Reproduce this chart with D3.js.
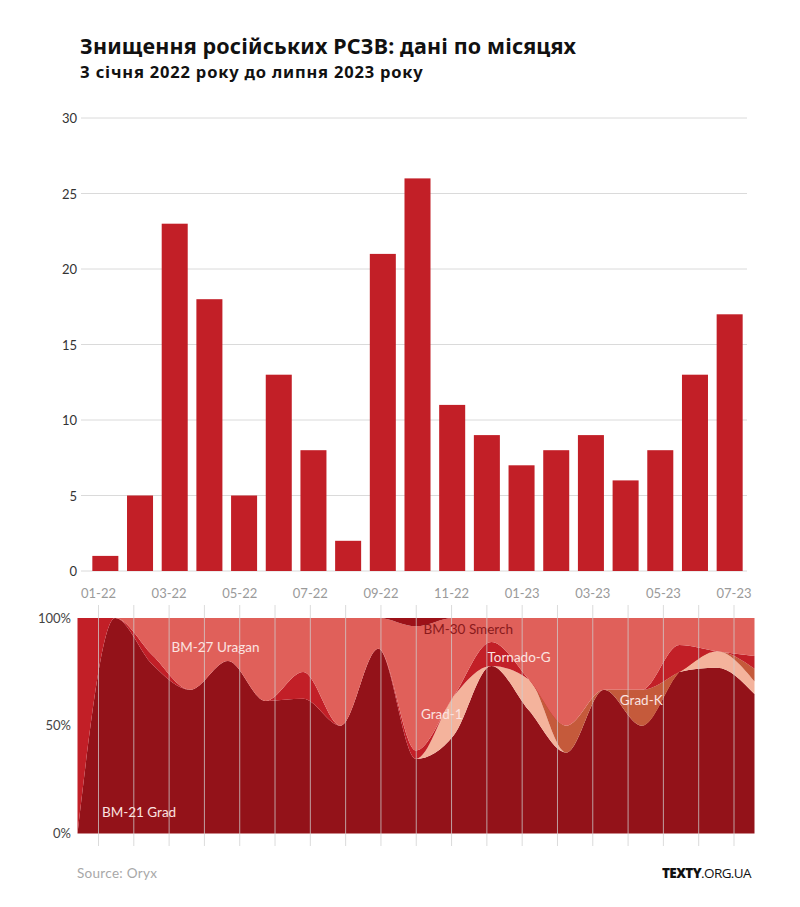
<!DOCTYPE html>
<html>
<head>
<meta charset="utf-8">
<script src="https://cdn.jsdelivr.net/npm/d3@7"></script>
<style>
  html, body { margin: 0; padding: 0; background: #fff; }
  svg { display: block; }
</style>
</head>
<body>
<svg id="chart" width="800" height="907"></svg>
<script>
// ---------- DATA ----------
const months = ["01-22","02-22","03-22","04-22","05-22","06-22","07-22","08-22","09-22","10-22",
                "11-22","12-22","01-23","02-23","03-23","04-23","05-23","06-23","07-23"];
const totals = [1,5,23,18,5,13,8,2,21,26,11,9,7,8,9,6,8,13,17];
// monthly losses by system type
const grad    = [0,5,18,12,4,8,5,1,18,9,5,7,4,3,6,3,6,10,11];
const grad1   = [0,0,0,0,0,0,0,0,0,0,2,0,1,0,0,0,0,1,1];
const gradK   = [0,0,0,0,0,0,0,0,0,0,0,0,0,1,0,1,0,0,1];
const tornado = [1,0,1,0,0,0,1,0,0,1,0,1,0,0,0,0,1,0,1];
const uragan  = [0,0,4,6,1,5,2,1,3,15,4,1,2,4,3,2,1,2,3];
const smerch  = [0,0,0,0,0,0,0,0,0,1,0,0,0,0,0,0,0,0,0];
const seriesNames = ["BM-21 Grad","Grad-1","Grad-K","Tornado-G","BM-27 Uragan","BM-30 Smerch"];
const barTicks = [0,5,10,15,20,25,30];
const pctTicks = [0, 0.5, 1];
const xLabelMonths = months.filter((m,i) => i % 2 === 0);

// ---------- STYLE ----------
const colors = {
  "BM-21 Grad": "#931219",
  "Grad-1": "#f4b39c",
  "Grad-K": "#c55a3b",
  "Tornado-G": "#c21f27",
  "BM-27 Uragan": "#e0605a",
  "BM-30 Smerch": "#9c1118"
};
const barColor = "#c21f27";
const fontMain = "Lato, 'Open Sans', 'Noto Sans', sans-serif";
const fontTitle = "'Noto Sans', 'Open Sans', sans-serif";

const svg = d3.select("#chart");

// ---------- TITLES ----------
svg.append("text").attr("x", 80).attr("y", 54)
  .attr("font-family", fontTitle).attr("font-weight", 700).attr("font-size", 21.5)
  .attr("letter-spacing", 0.15)
  .attr("fill", "#111").text("Знищення російських РСЗВ: дані по місяцях");
svg.append("text").attr("x", 80).attr("y", 78)
  .attr("font-family", fontTitle).attr("font-weight", 700).attr("font-size", 16.5)
  .attr("letter-spacing", 0.8)
  .attr("fill", "#111").text("З січня 2022 року до липня 2023 року");

// ---------- BAR CHART ----------
const xBar = d3.scaleBand().domain(months).range([88, 747]).paddingInner(0.25).paddingOuter(0.125);
const yBar = d3.scaleLinear().domain([0, 30]).range([571, 118]);

const gGrid = svg.append("g");
gGrid.selectAll("line").data(barTicks).join("line")
  .attr("x1", 81).attr("x2", 747)
  .attr("y1", d => yBar(d)).attr("y2", d => yBar(d))
  .attr("stroke", "#dadada").attr("stroke-width", 1);

const yAxisBar = d3.axisLeft(yBar).tickValues(barTicks).tickSize(0).tickPadding(0);
svg.append("g").attr("transform", "translate(77,0)").call(yAxisBar)
  .call(g => g.select(".domain").remove())
  .call(g => g.selectAll("text").attr("font-family", fontMain).attr("font-size", 13)
    .attr("fill", "#333").attr("dy", "0.35em"));

svg.append("g").selectAll("rect").data(months).join("rect")
  .attr("x", d => xBar(d))
  .attr("width", xBar.bandwidth())
  .attr("y", (d,i) => yBar(totals[i]))
  .attr("height", (d,i) => yBar(0) - yBar(totals[i]))
  .attr("fill", barColor);

// ---------- AREA CHART ----------
const xArea = d3.scalePoint().domain(months).range([77.5, 754.5]);
const xTick = d3.scalePoint().domain(months).range([98.5, 734]);
const yArea = d3.scaleLinear().domain([0, 1]).range([833.5, 618]);

const table = months.map((m, i) => ({
  month: m,
  "BM-21 Grad": grad[i],
  "Grad-1": grad1[i],
  "Grad-K": gradK[i],
  "Tornado-G": tornado[i],
  "BM-27 Uragan": uragan[i],
  "BM-30 Smerch": smerch[i]
}));
const stack = d3.stack().keys(seriesNames).offset(d3.stackOffsetExpand);
const stacked = stack(table);

const area = d3.area()
  .x(d => xArea(d.data.month))
  .y0(d => yArea(d[0]))
  .y1(d => yArea(d[1]))
  .curve(d3.curveMonotoneX);

svg.append("g").selectAll("path").data(stacked).join("path")
  .attr("d", area)
  .attr("fill", d => colors[d.key]);

// x labels (between charts)
svg.append("g").selectAll("text").data(xLabelMonths).join("text")
  .attr("x", d => xTick(d)).attr("y", 598)
  .attr("text-anchor", "middle")
  .attr("font-family", fontMain).attr("font-size", 13).attr("fill", "#9a9a9a")
  .text(d => d);

// vertical month lines
svg.append("g").selectAll("line").data(months).join("line")
  .attr("x1", d => xTick(d)).attr("x2", d => xTick(d))
  .attr("y1", 605).attr("y2", 846)
  .attr("stroke", "#cfcfcf").attr("stroke-opacity", 0.75).attr("stroke-width", 1);

// y labels area
svg.append("g").selectAll("text").data(pctTicks).join("text")
  .attr("x", 71).attr("y", d => yArea(d)).attr("dy", "0.35em")
  .attr("text-anchor", "end")
  .attr("font-family", fontMain).attr("font-size", 13).attr("fill", "#444")
  .text(d => d3.format(".0%")(d));

// series labels
const seriesLabels = [
  {name: "BM-21 Grad", i: 0.65, v: 0.078, color: "#fbe3e0"},
  {name: "BM-27 Uragan", i: 2.5, v: 0.842, color: "#fbe3e0"},
  {name: "BM-30 Smerch", i: 9.2, v: 0.925, color: "#8a1a1c"},
  {name: "Tornado-G", i: 10.9, v: 0.797, color: "#fbe3e0"},
  {name: "Grad-1", i: 9.13, v: 0.532, color: "#fbe3e0"},
  {name: "Grad-K", i: 14.42, v: 0.595, color: "#fbe3e0"}
];
svg.append("g").selectAll("text").data(seriesLabels).join("text")
  .attr("x", d => xArea.step() * d.i + xArea(months[0]))
  .attr("y", d => yArea(d.v))
  .attr("font-family", fontMain).attr("font-size", 13.5)
  .attr("fill", d => d.color)
  .text(d => d.name);

// ---------- FOOTER ----------
svg.append("text").attr("x", 77).attr("y", 878)
  .attr("font-family", fontMain).attr("font-size", 13.5).attr("fill", "#a8a8a8")
  .attr("letter-spacing", 0.3)
  .text("Source: Oryx");
const brand = svg.append("text").attr("x", 751).attr("y", 878).attr("text-anchor", "end")
  .attr("font-family", "'Open Sans', sans-serif").attr("font-size", 13.5).attr("fill", "#111")
  .attr("letter-spacing", "-0.6");
brand.append("tspan").attr("font-weight", 800).text("TEXTY");
brand.append("tspan").attr("font-weight", 400).text(".ORG.UA");
</script>
</body>
</html>
